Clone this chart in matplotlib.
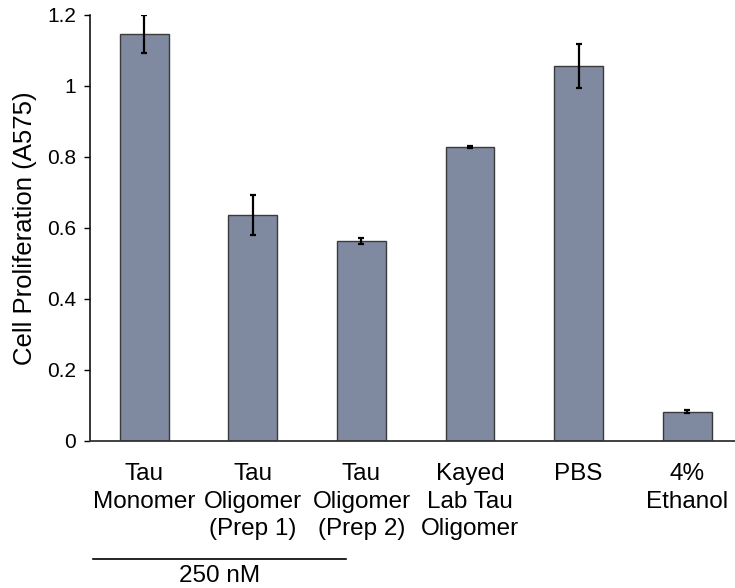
import matplotlib
matplotlib.use("Agg")
import matplotlib.pyplot as plt
import numpy as np

plt.rcParams['font.family'] = ['Liberation Sans', 'Arial', 'DejaVu Sans']

labels = ['Tau\nMonomer', 'Tau\nOligomer\n(Prep 1)', 'Tau\nOligomer\n(Prep 2)',
          'Kayed\nLab Tau\nOligomer', 'PBS', '4%\nEthanol']
values = [1.146, 0.636, 0.563, 0.828, 1.055, 0.082]
errors = [0.053, 0.057, 0.009, 0.002, 0.062, 0.004]
yticks = [0, 0.2, 0.4, 0.6, 0.8, 1.0, 1.2]
ytick_labels = ['0', '0.2', '0.4', '0.6', '0.8', '1', '1.2']

fig = plt.figure(figsize=(7.35, 5.88), dpi=100)
ax = fig.add_axes([0.1224, 0.25, 1.0 - 0.1224, 0.7245])

x = np.arange(len(values))
ax.bar(x, values, width=0.45, color='#7F8AA0', edgecolor='#3a3a3a', linewidth=1.0)
ax.errorbar(x, values, yerr=errors, fmt='none', ecolor='black',
            elinewidth=1.6, capsize=2.5, capthick=1.6)

ax.set_xlim(-0.5, 5.44)
ax.set_ylim(0, 1.2)
ax.set_yticks(yticks)
ax.set_yticklabels(ytick_labels, fontsize=15)
ax.set_xticks(x)
ax.set_xticklabels(labels, fontsize=17.5, linespacing=1.33)
ax.tick_params(axis='x', length=0, pad=16)
ax.tick_params(axis='y', direction='out', length=4, width=1, pad=6)
for s in ['top', 'right']:
    ax.spines[s].set_visible(False)
ax.spines['left'].set_linewidth(1.1)
ax.spines['bottom'].set_linewidth(1.3)
ax.spines['bottom'].set_color('#333333')
ax.set_ylabel('Cell Proliferation (A575)', fontsize=18.5, labelpad=7)

# group bracket under the first three bars
ax.plot([-0.475, 1.857], [-0.277, -0.277], color='black', lw=1.2,
        transform=ax.get_xaxis_transform(), clip_on=False)
ax.text(0.69, -0.291, '250 nM', fontsize=17.5, ha='center', va='top',
        transform=ax.get_xaxis_transform())

fig.savefig('out.png', dpi=100)
